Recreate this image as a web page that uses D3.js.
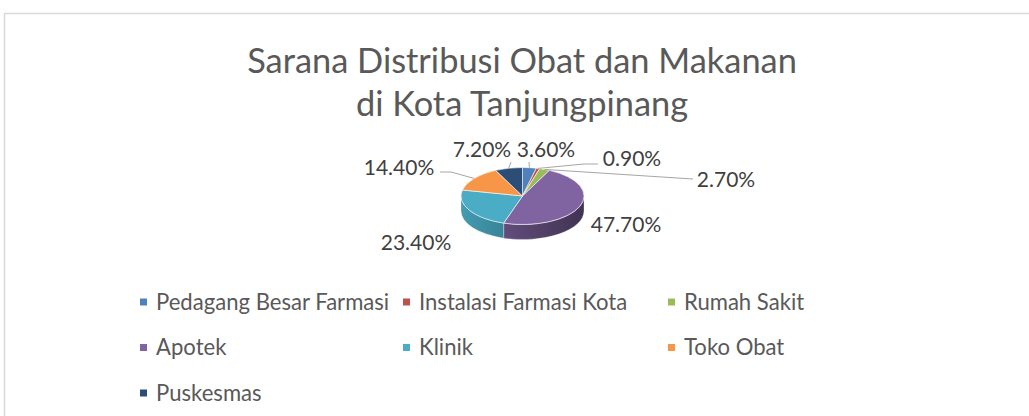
<!DOCTYPE html>
<meta charset="utf-8">
<style>
  body { margin: 0; background: #fff; }
  text { font-family: Lato, "Open Sans", sans-serif; }
</style>
<body>
  <svg width="1029" height="416"></svg>
  <script src="https://cdn.jsdelivr.net/npm/d3@7"></script>
  <script>
    // data
    const categories = ["Pedagang Besar Farmasi", "Instalasi Farmasi Kota", "Rumah Sakit",
      "Apotek", "Klinik", "Toko Obat", "Puskesmas"];
    const values = [3.6, 0.9, 2.7, 47.7, 23.4, 14.4, 7.2];
    const colors = ["#4f81bd", "#c0504d", "#9bbb59", "#8064a2", "#4bacc6", "#f79646", "#2c4d75"];
    const titleLines = ["Sarana Distribusi Obat dan Makanan", "di Kota Tanjungpinang"];

    // label placement (x center, baseline) and leader bend points, per slice
    const labelPos = [[546, 157], [632, 166], [726, 187], [626, 232], [416, 250], [399, 175], [482, 157]];
    const leaderFrom = [[[529, 162]], [[598, 164], [584, 164]], [[693, 179]], null, null,
      [[440, 172], [451, 172]], [[511, 162]]];

    const svg = d3.select("svg");
    const width = +svg.attr("width");

    // chart border
    svg.append("rect")
      .attr("x", 4.5).attr("y", 13.5)
      .attr("width", width + 20).attr("height", 500)
      .attr("fill", "#fff").attr("stroke", "#d9d9d9").attr("stroke-width", 1.5);

    // title
    svg.append("g").selectAll("text")
      .data(titleLines)
      .join("text")
      .attr("x", 522)
      .attr("y", (d, i) => 73 + i * 43)
      .attr("text-anchor", "middle")
      .attr("fill", "#595959")
      .style("font-size", "34.4px")
      .text(d => d);

    // 3d pie
    const cx = 522.5, cy = 196, rx = 61.5, ry = 28.5, depth = 15;
    const pt = (a, dy = 0) => [cx + rx * Math.sin(a), cy - ry * Math.cos(a) + dy];
    const arcs = d3.pie().sort(null).value(d => d)(values);

    const defs = svg.append("defs");
    colors.forEach((c, i) => {
      const gr = defs.append("linearGradient")
        .attr("id", "side" + i)
        .attr("gradientUnits", "userSpaceOnUse")
        .attr("x1", cx - rx).attr("x2", cx + rx).attr("y1", 0).attr("y2", 0);
      gr.append("stop").attr("offset", 0).attr("stop-color", d3.color(c).darker(0.3));
      gr.append("stop").attr("offset", 1).attr("stop-color", d3.color(c).darker(1.9));
    });

    const pie = svg.append("g");

    // visible side walls (front half only)
    const sides = arcs.map((d, i) => {
      const s = Math.max(d.startAngle, Math.PI / 2), e = Math.min(d.endAngle, 3 * Math.PI / 2);
      if (e <= s) return null;
      const p0 = pt(s), p1 = pt(e), p2 = pt(e, depth), p3 = pt(s, depth);
      return { i, path: `M${p0}A${rx},${ry} 0 0 1 ${p1}L${p2}A${rx},${ry} 0 0 0 ${p3}Z` };
    }).filter(d => d);

    pie.selectAll(".side")
      .data(sides)
      .join("path")
      .attr("class", "side")
      .attr("d", d => d.path)
      .attr("fill", d => `url(#side${d.i})`)
      .attr("stroke", "#fff")
      .attr("stroke-opacity", 0.5)
      .attr("stroke-width", 0.6);

    pie.selectAll(".top")
      .data(arcs)
      .join("path")
      .attr("class", "top")
      .attr("d", d => {
        const large = d.endAngle - d.startAngle > Math.PI ? 1 : 0;
        return `M${cx},${cy}L${pt(d.startAngle)}A${rx},${ry} 0 ${large} 1 ${pt(d.endAngle)}Z`;
      })
      .attr("fill", (d, i) => colors[i])
      .attr("stroke", "#fff")
      .attr("stroke-width", 0.6);

    // leader lines
    const leaders = arcs.map((d, i) => {
      if (!leaderFrom[i]) return null;
      const mid = (d.startAngle + d.endAngle) / 2;
      return leaderFrom[i].concat([pt(mid)]);
    }).filter(d => d);

    svg.append("g").selectAll("path")
      .data(leaders)
      .join("path")
      .attr("d", d3.line())
      .attr("fill", "none")
      .attr("stroke", "#a6a6a6")
      .attr("stroke-width", 1);

    // data labels
    svg.append("g").selectAll("text")
      .data(values)
      .join("text")
      .attr("x", (d, i) => labelPos[i][0])
      .attr("y", (d, i) => labelPos[i][1])
      .attr("text-anchor", "middle")
      .attr("fill", "#404040")
      .style("font-size", "21px")
      .text(d => d.toFixed(2) + "%");

    // legend
    const colX = [140, 403, 668];
    const rowY = d3.scaleLinear().domain([0, 1]).range([302, 347.5]);
    const item = svg.append("g").selectAll("g")
      .data(categories)
      .join("g")
      .attr("transform", (d, i) => `translate(${colX[i % 3]},${rowY(Math.floor(i / 3))})`);

    item.append("rect")
      .attr("x", 0).attr("y", -3.5)
      .attr("width", 7).attr("height", 7)
      .attr("fill", (d, i) => colors[i]);

    item.append("text")
      .attr("x", 16)
      .attr("dy", "0.36em")
      .attr("fill", "#595959")
      .style("font-size", "22.1px")
      .text(d => d);
  </script>
</body>
